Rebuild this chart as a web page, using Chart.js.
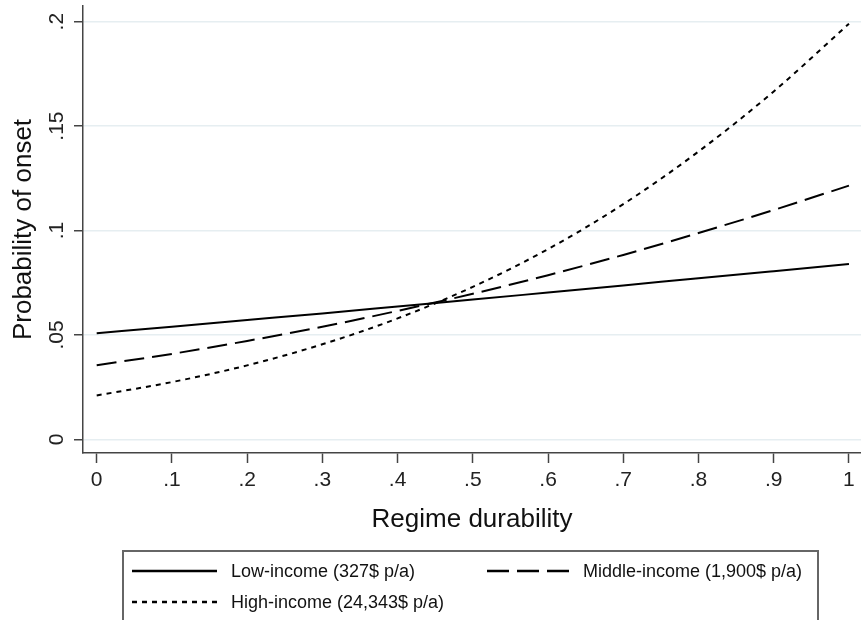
<!DOCTYPE html>
<html>
<head>
<meta charset="utf-8">
<script src="https://cdn.jsdelivr.net/npm/chart.js@4.4.1/dist/chart.umd.min.js"></script>
<style>
  html, body { margin: 0; padding: 0; background: #fff; }
  #wrap { position: relative; width: 861px; height: 620px; overflow: hidden; font-family: "Liberation Sans", Arial, sans-serif; }
  #wrap canvas { position: absolute; left: 0; top: 0; }
  #legendBox { position: absolute; left: 122px; top: 550px; width: 697px; height: 120px; border: 2px solid #666; box-sizing: border-box; }
  .lg-text { position: absolute; font-size: 18px; line-height: 18px; color: #111; white-space: nowrap; }
  .lg-line { position: absolute; }
</style>
</head>
<body>
<div id="wrap">
  <canvas id="c" width="861" height="620"></canvas>
  <div id="legendBox"></div>
  <div id="legendItems"></div>
</div>
<script>
// ---- data ----
const xValues = [0, 0.1, 0.2, 0.3, 0.4, 0.5, 0.6, 0.7, 0.8, 0.9, 1];
const lowIncome = [0.0508, 0.0539, 0.0571, 0.0603, 0.0636, 0.0669, 0.0703, 0.0737, 0.0771, 0.0805, 0.0839];
const middleIncome = [0.0355, 0.0409, 0.0471, 0.0539, 0.0615, 0.0697, 0.0786, 0.0883, 0.0988, 0.1098, 0.1215];
const highIncome = [0.0210, 0.0274, 0.0354, 0.0455, 0.0579, 0.0730, 0.0911, 0.1126, 0.1378, 0.1666, 0.1990];
const seriesNames = ["Low-income (327$ p/a)", "Middle-income (1,900$ p/a)", "High-income (24,343$ p/a)"];
const xTickValues = [0, 0.1, 0.2, 0.3, 0.4, 0.5, 0.6, 0.7, 0.8, 0.9, 1];
const xTickLabels = ["0", ".1", ".2", ".3", ".4", ".5", ".6", ".7", ".8", ".9", "1"];
const yTickValues = [0, 0.05, 0.1, 0.15, 0.2];
const yTickLabels = ["0", ".05", ".1", ".15", ".2"];
const xTitle = "Regime durability";
const yTitle = "Probability of onset";

const FONT = '"Liberation Sans", Arial, sans-serif';
const dashes = [[], [20, 8], [5, 5]];
const seriesData = [lowIncome, middleIncome, highIncome];

const toPoints = arr => arr.map((v, i) => ({ x: xValues[i], y: v }));

const yLabelPlugin = {
  id: 'yLabels',
  afterDraw(chart) {
    const ctx = chart.ctx;
    const ys = chart.scales.y;
    ctx.save();
    ctx.font = '21px ' + FONT;
    ctx.fillStyle = '#222';
    ctx.textAlign = 'center';
    ctx.textBaseline = 'alphabetic';
    yTickValues.forEach((v, i) => {
      const py = ys.getPixelForValue(v);
      ctx.save();
      ctx.translate(63, py);
      ctx.rotate(-Math.PI / 2);
      ctx.fillText(yTickLabels[i], 0, 0);
      ctx.restore();
    });
    ctx.restore();
  }
};

new Chart(document.getElementById('c'), {
  type: 'line',
  data: {
    datasets: seriesData.map((d, i) => ({
      label: seriesNames[i],
      data: toPoints(d),
      borderColor: '#000',
      borderWidth: 2,
      borderDash: dashes[i],
      pointRadius: 0,
      fill: false,
      cubicInterpolationMode: 'monotone'
    }))
  },
  options: {
    responsive: false,
    animation: false,
    layout: { padding: { top: 6, left: 8, right: 0, bottom: 85 } },
    plugins: { legend: { display: false }, tooltip: { enabled: false } },
    scales: {
      x: {
        type: 'linear',
        min: -0.0182,
        max: 1.016,
        afterBuildTicks: s => { s.ticks = xTickValues.map(v => ({ value: v })); },
        ticks: {
          callback: (v) => { const i = xTickValues.findIndex(t => Math.abs(t - v) < 1e-9); return i >= 0 ? xTickLabels[i] : ''; },
          font: { size: 21, family: FONT },
          color: '#222',
          padding: 5,
          maxRotation: 0,
          autoSkip: false
        },
        grid: { drawOnChartArea: false, drawTicks: true, tickLength: 10, tickColor: '#444', tickWidth: 1.5 },
        border: { color: '#444', width: 1.5 },
        title: { display: true, text: xTitle, font: { size: 26, family: FONT }, color: '#111', padding: 0 },
        afterFit: s => { s.height = 82; }
      },
      y: {
        type: 'linear',
        min: -0.00656,
        max: 0.2075,
        afterBuildTicks: s => { s.ticks = yTickValues.map(v => ({ value: v })); },
        ticks: { display: false },
        grid: { color: '#e6eef1', lineWidth: 1.5, drawTicks: true, tickLength: 9, tickColor: '#444', tickWidth: 1.5 },
        border: { color: '#444', width: 1.5 },
        title: { display: true, text: yTitle, font: { size: 26, family: FONT }, color: '#111', padding: 0 },
        afterFit: s => { s.width = 75; }
      }
    }
  },
  plugins: [yLabelPlugin]
});

// ---- HTML legend ----
const items = document.getElementById('legendItems');
const legendPos = [
  { lx: 132, ly: 571, tx: 231, ty: 562 },
  { lx: 487, ly: 571, tx: 583, ty: 562 },
  { lx: 132, ly: 602, tx: 231, ty: 593 }
];
const legendDash = ['', '22 8', '5 5'];
seriesNames.forEach((name, i) => {
  const p = legendPos[i];
  const svgNS = 'http://www.w3.org/2000/svg';
  const svg = document.createElementNS(svgNS, 'svg');
  svg.setAttribute('width', '86');
  svg.setAttribute('height', '6');
  svg.setAttribute('class', 'lg-line');
  svg.style.left = p.lx + 'px';
  svg.style.top = (p.ly - 3) + 'px';
  const line = document.createElementNS(svgNS, 'line');
  line.setAttribute('x1', '0'); line.setAttribute('y1', '3');
  line.setAttribute('x2', i === 1 ? '82' : '85'); line.setAttribute('y2', '3');
  line.setAttribute('stroke', '#000');
  line.setAttribute('stroke-width', '2.5');
  if (legendDash[i]) line.setAttribute('stroke-dasharray', legendDash[i]);
  svg.appendChild(line);
  items.appendChild(svg);
  const t = document.createElement('div');
  t.className = 'lg-text';
  t.style.left = p.tx + 'px';
  t.style.top = p.ty + 'px';
  t.textContent = name;
  items.appendChild(t);
});
</script>
</body>
</html>
